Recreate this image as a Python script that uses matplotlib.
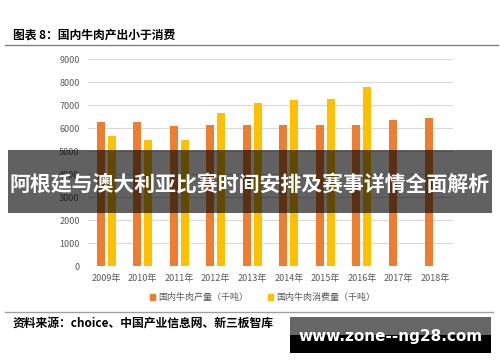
import matplotlib.pyplot as plt
import numpy as np
from matplotlib.patches import Rectangle, Patch
from matplotlib.lines import Line2D

plt.rcParams['font.family'] = ['Noto Sans CJK SC', 'DejaVu Sans']

years = ['2009年', '2010年', '2011年', '2012年', '2013年', '2014年',
         '2015年', '2016年', '2017年', '2018年']
production = [6250, 6275, 6090, 6120, 6120, 6130, 6130, 6130, 6330, 6420]
consumption = [5640, 5480, 5480, 6670, 7070, 7200, 7275, 7780]

orange = '#ED7D31'
yellow = '#FFC000'
grey_txt = '#595959'

fig = plt.figure(figsize=(5, 3.62), dpi=100)
ax = fig.add_axes([0.176, 0.265, 0.73, 0.572])

x = np.arange(len(years))
w = 0.22
ax.bar(x - 0.145, production, w, color=orange, zorder=3)
ax.bar(x[:len(consumption)] + 0.145, consumption, w, color=yellow, zorder=3)

ax.set_xlim(-0.5, len(years) - 0.5)
ax.set_ylim(0, 9000)
ax.set_yticks(np.arange(0, 9001, 1000))
ax.set_xticks(x)
ax.set_xticklabels(years)
ax.grid(axis='y', color='#D9D9D9', linewidth=0.8, zorder=0)
for s in ax.spines.values():
    s.set_visible(False)
ax.tick_params(length=0, labelsize=6.5, colors=grey_txt)
ax.tick_params(axis='x', pad=6, labelsize=6.5)
ax.tick_params(axis='y', pad=6)

handles = [Patch(color=orange, label='国内牛肉产量（千吨）'),
           Patch(color=yellow, label='国内牛肉消费量（千吨）')]
fig.legend(handles=handles, loc='center', bbox_to_anchor=(0.525, 0.177), ncol=2,
           frameon=False, fontsize=6.5, handlelength=0.6, handleheight=0.6,
           handletextpad=0.3, columnspacing=2.2, labelcolor=grey_txt)

# header / footer
fig.text(0.026, 0.903, '图表 8：国内牛肉产出小于消费', fontsize=8.5,
         fontweight='bold', va='center', ha='left')
fig.add_artist(Line2D([0.01, 0.996], [0.876, 0.876], color='#808080', lw=1))
fig.add_artist(Line2D([0.01, 0.986], [0.138, 0.138], color='#A0A0A0', lw=1))
fig.text(0.026, 0.108, '资料来源：choice、中国产业信息网、新三板智库', fontsize=8.5,
         fontweight='bold', va='center', ha='left')

# overlay banner
fig.add_artist(Rectangle((0.016, 0.4124), 0.968, 0.1732, transform=fig.transFigure,
                         facecolor='black', alpha=0.62, edgecolor='none', zorder=10))
fig.text(0.5, 0.4917, '阿根廷与澳大利亚比赛时间安排及赛事详情全面解析', fontsize=15,
         fontweight='bold', color='white', ha='center', va='center', zorder=11)

# watermark box
fig.add_artist(Rectangle((0.58, 0.0257), 0.402, 0.0493, transform=fig.transFigure,
                         facecolor='black', edgecolor='none', zorder=10))
fig.add_artist(Rectangle((0.58, 0.075), 0.402, 0.05, transform=fig.transFigure,
                         facecolor='#666666', edgecolor='none', zorder=10))
fig.text(0.781, 0.07, 'www.zone--ng28.com', fontsize=11, fontweight='bold',
         color='white', ha='center', va='center', family='DejaVu Sans', zorder=11)

fig.savefig('out.png', dpi=100)
